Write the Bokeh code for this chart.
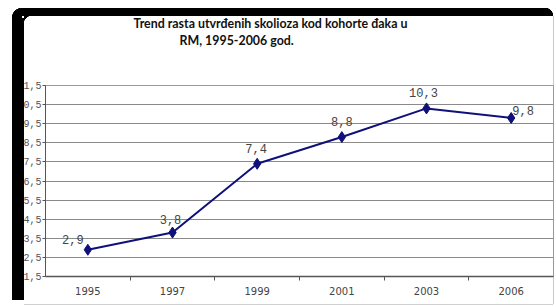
from bokeh.plotting import figure
from bokeh.models import Range1d, FixedTicker, ColumnDataSource, LabelSet, Title
from bokeh.embed import file_html
from bokeh.resources import INLINE
from bokeh.core.properties import value

years = ["1995", "1997", "1999", "2001", "2003", "2006"]
rates = [2.9, 3.8, 7.4, 8.8, 10.3, 9.8]
rate_labels = ["2,9", "3,8", "7,4", "8,8", "10,3", "9,8"]
y_ticks = [1.5, 2.5, 3.5, 4.5, 5.5, 6.5, 7.5, 8.5, 9.5, 10.5, 11.5]
y_tick_labels = ["1,5", "2,5", "3,5", "4,5", "5,5", "6,5", "7,5", "8,5", "9,5", "0,5", "1,5"]
title_line1 = "Trend rasta utvrđenih skolioza kod kohorte đaka u"
title_line2 = "RM, 1995-2006 god."

# style: label offsets (pixels)
label_dx = [-15, -2, -1, 0, -3, 12]
label_dy = [6, 9, 11, 11, 11, 3]

xpos = [i + 0.5 for i in range(len(years))]
src = ColumnDataSource(dict(x=xpos, y=rates, t=rate_labels, dx=label_dx, dy=label_dy))

p = figure(width=556, height=306, output_backend="svg", toolbar_location=None,
           x_range=Range1d(0, len(years)), y_range=Range1d(y_ticks[0], y_ticks[-1]),
           title=None, min_border_left=45, min_border_right=3, min_border_bottom=30,
           min_border_top=85)

frame_bg = ", ".join([
    "radial-gradient(circle at 100% 100%, transparent 8px, #000 8.5px) 24px 16px / 8px 8px no-repeat",
    "radial-gradient(circle at 100% 100%, #000 10px, transparent 10.5px) 12px 8px / 10px 10px no-repeat",
    "radial-gradient(circle at 0% 100%, #000 8px, transparent 8.5px) 545px 8px / 8px 8px no-repeat",
    "linear-gradient(#000, #000) 12px 18px / 12px 282px no-repeat",
    "linear-gradient(#000, #000) 22px 8px / 523px 8px no-repeat",
    "linear-gradient(#c8c8c8, #c8c8c8) 553px 16px / 1px 288px no-repeat",
    "linear-gradient(#d0d0d0, #d0d0d0) 24px 304px / 529px 1px no-repeat",
])
p.styles = {"background": frame_bg}

# stacked from the frame upwards: spacer, second line, first line
p.add_layout(Title(text=" ", standoff=19, text_font="Lato", text_font_size="12.4px"), "above")
p.add_layout(Title(text=title_line2, align="left", offset=134, standoff=0,
                   vertical_align="top", text_font="Lato", text_font_size="12.4px",
                   text_font_style="bold", text_color="#111111"), "above")
p.add_layout(Title(text=title_line1, align="left", offset=88, standoff=0,
                   vertical_align="top", text_font="Lato", text_font_size="12.4px",
                   text_font_style="bold", text_color="#111111"), "above")

p.line("x", "y", source=src, line_color="#10107a", line_width=2)
p.scatter("x", "y", source=src, marker="diamond", size=11, fill_color="#10107a",
          line_color="#10107a")

labels = LabelSet(x="x", y="y", text="t", source=src, x_offset="dx", y_offset="dy",
                  text_align="center", text_baseline="bottom",
                  text_font=value("Liberation Mono"),
                  text_font_size="12px", text_color="#444444")
p.add_layout(labels)

xax = p.below[0]
xax.ticker = FixedTicker(ticks=xpos, minor_ticks=list(range(1, len(years))))
xax.major_label_overrides = {x: y for x, y in zip(xpos, years)}
xax.major_tick_out = 0
xax.major_tick_in = 0
xax.minor_tick_out = 4
xax.minor_tick_in = 0
xax.axis_line_color = "#555555"
xax.axis_line_width = 1.5
xax.minor_tick_line_color = "#555555"
xax.major_label_text_font = "DejaVu Sans"
xax.major_label_text_font_size = "10px"
xax.major_label_text_color = "#444444"
xax.major_label_standoff = 6

p.yaxis.ticker = FixedTicker(ticks=y_ticks, minor_ticks=[])
p.yaxis.major_label_overrides = {t: l for t, l in zip(y_ticks, y_tick_labels)}
p.yaxis.major_tick_out = 3
p.yaxis.major_tick_in = 0
p.yaxis.axis_line_color = "#555555"
p.yaxis.major_tick_line_color = "#555555"
p.yaxis.major_label_text_font = "Liberation Mono"
p.yaxis.major_label_text_font_size = "10px"
p.yaxis.major_label_text_color = "#555555"
p.yaxis.major_label_standoff = 1

p.xgrid.grid_line_color = None
p.ygrid.grid_line_color = "#8a8a8a"
p.outline_line_color = "#999999"
p.background_fill_color = "white"
p.border_fill_color = None

open("out.html", "w").write(file_html(p, INLINE))
